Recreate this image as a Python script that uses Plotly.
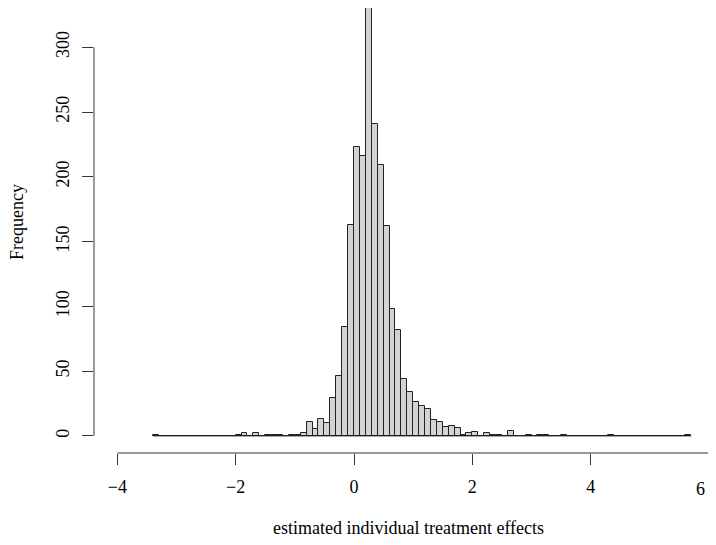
import plotly.graph_objects as go

# ---- data ----
bin_start = -3.4
bin_width = 0.1
counts = [
    1,                                          # -3.4
    0, 0, 0, 0, 0, 0, 0, 0, 0, 0, 0, 0, 0,      # -3.3 .. -2.1
    1, 2, 0, 2, 0,                              # -2.0 .. -1.6
    1, 1, 1, 0, 1, 1, 2,                        # -1.5 .. -0.9
    11, 5, 13, 10, 29, 46, 84, 163,             # -0.8 .. -0.1
    223, 216, 330, 241, 209, 162, 98, 82,       # 0.0 .. 0.7
    44, 34, 26, 23, 21, 12, 11, 7, 8, 6,        # 0.8 .. 1.7
    1, 2, 3, 0, 2, 1, 1, 0, 4, 0, 0, 1,         # 1.8 .. 2.9
    0, 1, 1, 0, 0, 1,                           # 3.0 .. 3.5
    0, 0, 0, 0, 0, 0, 0,                        # 3.6 .. 4.2
    1,                                          # 4.3
    0, 0, 0, 0, 0, 0, 0, 0, 0, 0, 0, 0,         # 4.4 .. 5.5
    1,                                          # 5.6
]
x_ticks = [-4, -2, 0, 2, 4, 6]
y_ticks = [0, 50, 100, 150, 200, 250, 300]
x_label = "estimated individual treatment effects"
y_label = "Frequency"

centers = [bin_start + bin_width * (i + 0.5) for i in range(len(counts))]
first_edge = bin_start
last_edge = bin_start + bin_width * len(counts)


def fmt(v):
    return ("\u2212" + str(-v)) if v < 0 else str(v)


FONT = "Liberation Serif"
FS = 18
fig = go.Figure()
fig.add_trace(go.Scatter(
    x=[first_edge, last_edge], y=[0, 0], mode="lines",
    line=dict(color="#222222", width=1), hoverinfo="skip", showlegend=False))
fig.add_trace(go.Bar(
    x=centers, y=counts, width=bin_width, cliponaxis=False,
    marker=dict(color="#D3D3D3", line=dict(color="#222222", width=1)),
    showlegend=False))

# last tick label sits at the right edge: draw it as a right-anchored text so it stays whole
tick_text = [fmt(v) for v in x_ticks[:-1]] + [""]

fig.update_layout(
    width=708, height=529,
    margin=dict(l=86, r=0, t=0, b=84, pad=0),
    paper_bgcolor="white", plot_bgcolor="white",
    bargap=0,
    font=dict(family=FONT, size=FS, color="black"),
    xaxis=dict(range=[-4.394, 6.118], tickvals=x_ticks, ticktext=tick_text,
               ticks="outside", ticklen=11, tickwidth=1, tickcolor="#333333",
               showgrid=False, zeroline=False, showline=False,
               automargin=False, ticklabelstandoff=6),
    yaxis=dict(range=[-13.2, 330.3], tickvals=y_ticks,
               ticks="outside", ticklen=11, tickwidth=1, tickcolor="#333333",
               showgrid=False, zeroline=False, showline=False,
               automargin=False, tickangle=-90, ticklabelstandoff=6),
    shapes=[
        dict(type="line", xref="x", yref="paper", x0=min(x_ticks), x1=max(x_ticks),
             y0=0, y1=0, line=dict(color="#333333", width=1)),
        dict(type="line", xref="paper", yref="y", x0=0, x1=0,
             y0=min(y_ticks), y1=max(y_ticks), line=dict(color="#333333", width=1)),
    ],
    annotations=[
        dict(text=fmt(x_ticks[-1]), xref="x", yref="paper", x=x_ticks[-1], y=0,
             yshift=-36, xshift=-2, xanchor="right", yanchor="middle", showarrow=False,
             font=dict(family=FONT, size=FS)),
        dict(text=x_label, xref="paper", yref="paper", x=0.505, y=0,
             yshift=-75, xanchor="center", yanchor="middle", showarrow=False,
             font=dict(family=FONT, size=FS)),
        dict(text=y_label, xref="paper", yref="paper", x=0, y=0.519,
             xshift=-77, xanchor="center", yanchor="middle", showarrow=False,
             textangle=-90, font=dict(family=FONT, size=FS)),
    ],
)

fig.write_html("out.html")
